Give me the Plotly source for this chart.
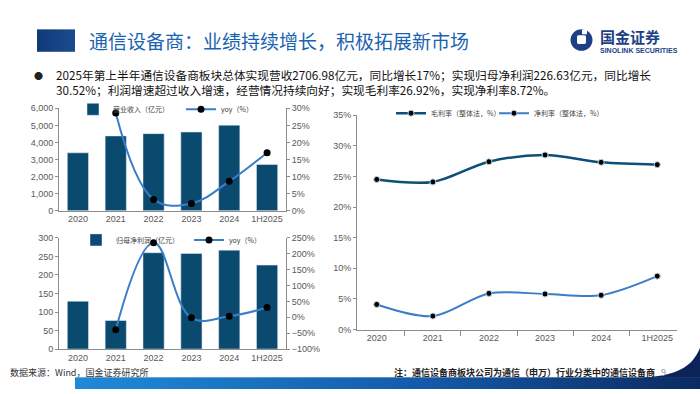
import base64
import plotly.graph_objects as go

# ---------------- data ----------------
years = ["2020", "2021", "2022", "2023", "2024", "1H2025"]
revenue = [3390, 4380, 4515, 4610, 5010, 2706.98]          # 营业收入（亿元）
revenue_yoy = [None, 28.6, 3.3, 2.1, 8.6, 17.0]             # yoy（%）
profit = [129, 77, 260, 258, 267, 226.63]                   # 归母净利润（亿元）
profit_yoy = [None, -39.6, 234.6, -1.8, 3.4, 30.52]         # yoy（%）
gross_margin = [24.5, 24.1, 27.4, 28.5, 27.3, 26.92]        # 毛利率（整体法，%）
net_margin = [4.1, 2.2, 5.9, 5.8, 5.6, 8.72]                # 净利率（整体法，%）

W, H = 700, 394


def px(x):
    return x / W


def py(y):
    return 1 - y / H


FONT = "Liberation Sans, Noto Sans CJK SC, sans-serif"
CJK = "Noto Sans CJK SC, sans-serif"
BAR = "#0B4A6F"
LINE = "#3A7DC9"
DARKLINE = "#0D4F78"
TICK = dict(size=9, color="#595959", family=FONT)

fig = go.Figure()

# --- chart 1: revenue ---
fig.add_trace(go.Bar(x=years, y=revenue, name="营业收入（亿元）", marker_color=BAR,
                     xaxis="x", yaxis="y", legend="legend", showlegend=True))
fig.add_trace(go.Scatter(x=years, y=revenue_yoy, name="yoy（%）", mode="lines+markers",
                         line=dict(color=LINE, width=2, shape="spline", smoothing=1.1),
                         marker=dict(color="black", size=7),
                         xaxis="x", yaxis="y2", legend="legend2"))
# --- chart 2: profit ---
fig.add_trace(go.Bar(x=years, y=profit, name="归母净利润（亿元）", marker_color=BAR,
                     xaxis="x2", yaxis="y3", legend="legend3"))
fig.add_trace(go.Scatter(x=years, y=profit_yoy, name="yoy（%）", mode="lines+markers",
                         line=dict(color=LINE, width=2, shape="spline", smoothing=1.1),
                         marker=dict(color="black", size=7),
                         xaxis="x2", yaxis="y4", legend="legend4"))
# --- chart 3: margins ---
fig.add_trace(go.Scatter(x=years, y=gross_margin, name="毛利率（整体法，%）", mode="lines+markers",
                         line=dict(color=DARKLINE, width=2.5, shape="spline", smoothing=0.9),
                         marker=dict(color="black", size=6, line=dict(color="#BFD3E6", width=1)),
                         xaxis="x3", yaxis="y5", legend="legend5"))
fig.add_trace(go.Scatter(x=years, y=net_margin, name="净利率（整体法，%）", mode="lines+markers",
                         line=dict(color=LINE, width=2, shape="spline", smoothing=0.9),
                         marker=dict(color="black", size=6, line=dict(color="#BFD3E6", width=1)),
                         xaxis="x3", yaxis="y5", legend="legend6"))

axis_common = dict(showgrid=False, zeroline=False, showline=True, linecolor="#8C8C8C",
                   linewidth=1, tickfont=TICK, ticks="outside", tickcolor="#8C8C8C",
                   ticklen=3)

left_x = [px(59), px(286)]
fig.update_layout(
    showlegend=True,
    xaxis=dict(domain=left_x, anchor="y", type="category", **{**axis_common, "ticks": ""}),
    yaxis=dict(domain=[py(211), py(106)], anchor="x", range=[0, 6000], dtick=1000,
               tickformat=",", **axis_common),
    yaxis2=dict(overlaying="y", side="right", anchor="x", range=[0, 30], dtick=5,
                ticksuffix="%", **axis_common),
    xaxis2=dict(domain=left_x, anchor="y3", type="category", **{**axis_common, "ticks": ""}),
    yaxis3=dict(domain=[py(353), py(239)], anchor="x2", range=[0, 300], dtick=50,
                **axis_common),
    yaxis4=dict(overlaying="y3", side="right", anchor="x2", range=[-100, 250], dtick=50,
                ticksuffix="%", **axis_common),
    xaxis3=dict(domain=[px(357), px(677)], anchor="y5", type="category", tickson="boundaries",
                **{**axis_common, "ticklen": 5}),
    yaxis5=dict(domain=[py(333), py(113)], anchor="x3", range=[0, 35], dtick=5,
                ticksuffix="%", **axis_common),
    bargap=0.44,
)

leg = dict(orientation="h", xanchor="left", yanchor="middle", bgcolor="rgba(0,0,0,0)",
           font=dict(size=7, color="#404040", family=CJK), itemwidth=30)
fig.update_layout(
    legend=dict(x=px(73), y=py(107), **leg),
    legend2=dict(x=px(181), y=py(107), **leg),
    legend3=dict(x=px(76), y=py(241), **leg),
    legend4=dict(x=px(189), y=py(241), **leg),
    legend5=dict(x=px(391), y=py(111), **leg),
    legend6=dict(x=px(494), y=py(111), **leg),
)

# ---------------- decorations (svg) ----------------
svg = f'''<svg xmlns="http://www.w3.org/2000/svg" width="{W}" height="{H}" viewBox="0 0 {W} {H}">
<defs>
<linearGradient id="g" x1="0" x2="1" y1="0" y2="0">
<stop offset="0" stop-color="#1F8AD8"/><stop offset="0.55" stop-color="#145BAA"/><stop offset="1" stop-color="#0B2A62"/>
</linearGradient>
<linearGradient id="t" x1="0" x2="1" y1="0" y2="0">
<stop offset="0" stop-color="#0F3A78"/><stop offset="1" stop-color="#1B4C8E"/>
</linearGradient>
</defs>
<rect x="37" y="25" width="38" height="23" fill="url(#t)"/>
<rect x="75" y="382" width="625" height="12" fill="url(#g)"/>
<path d="M700,352 C692,372 676,381 640,382.5 L700,382.5 Z" fill="#0B2358"/>
<circle cx="581.5" cy="36" r="11" fill="#1C3F86"/>
<rect x="577" y="31" width="9" height="9" rx="1.5" fill="white"/>
<rect x="582" y="25" width="5" height="5" fill="white"/>
</svg>'''
src = "data:image/svg+xml;base64," + base64.b64encode(svg.encode()).decode()
fig.add_layout_image(dict(source=src, xref="paper", yref="paper", x=0, y=1, sizex=1, sizey=1,
                          xanchor="left", yanchor="top", sizing="stretch", layer="below"))

ann = []


def text(x, y, s, size, color, xanchor="left", bold=False, family=CJK, align="left"):
    if bold:
        s = f"<b>{s}</b>"
    ann.append(dict(x=px(x), y=py(y), xref="paper", yref="paper", text=s, showarrow=False,
                    xanchor=xanchor, yanchor="middle", align=align,
                    font=dict(size=size, color=color, family=family)))


text(87, 36, "通信设备商：业绩持续增长，积极拓展新市场", 19, "#1A63B0")
text(598, 32, "国金证券", 15, "#1C3F86", bold=True)
text(598, 47, "SINOLINK SECURITIES", 7, "#1C3F86", bold=True, family="Liberation Sans, sans-serif")
text(32, 72, "●", 9, "#222222")
text(54, 79.5, "2025年第上半年通信设备商板块总体实现营收2706.98亿元，同比增长17%；实现归母净利润226.63亿元，同比增长"
     "<br>30.52%；利润增速超过收入增速，经营情况持续向好；实现毛利率26.92%，实现净利率8.72%。",
     11.7, "#111111")
text(8, 377, "数据来源：Wind，国金证券研究所", 9, "#333333")
text(657, 377, "注：通信设备商板块公司为通信（申万）行业分类中的通信设备商", 9, "#222222", xanchor="right", bold=True)
text(659, 377, "9", 9, "#999999")

fig.update_layout(annotations=ann, width=W, height=H, margin=dict(l=0, r=0, t=0, b=0),
                  paper_bgcolor="white", plot_bgcolor="rgba(0,0,0,0)",
                  font=dict(family=FONT, size=9, color="#595959"))

fig.write_html("out.html", config={"displayModeBar": False},
               post_script="document.body.style.margin='0';")
